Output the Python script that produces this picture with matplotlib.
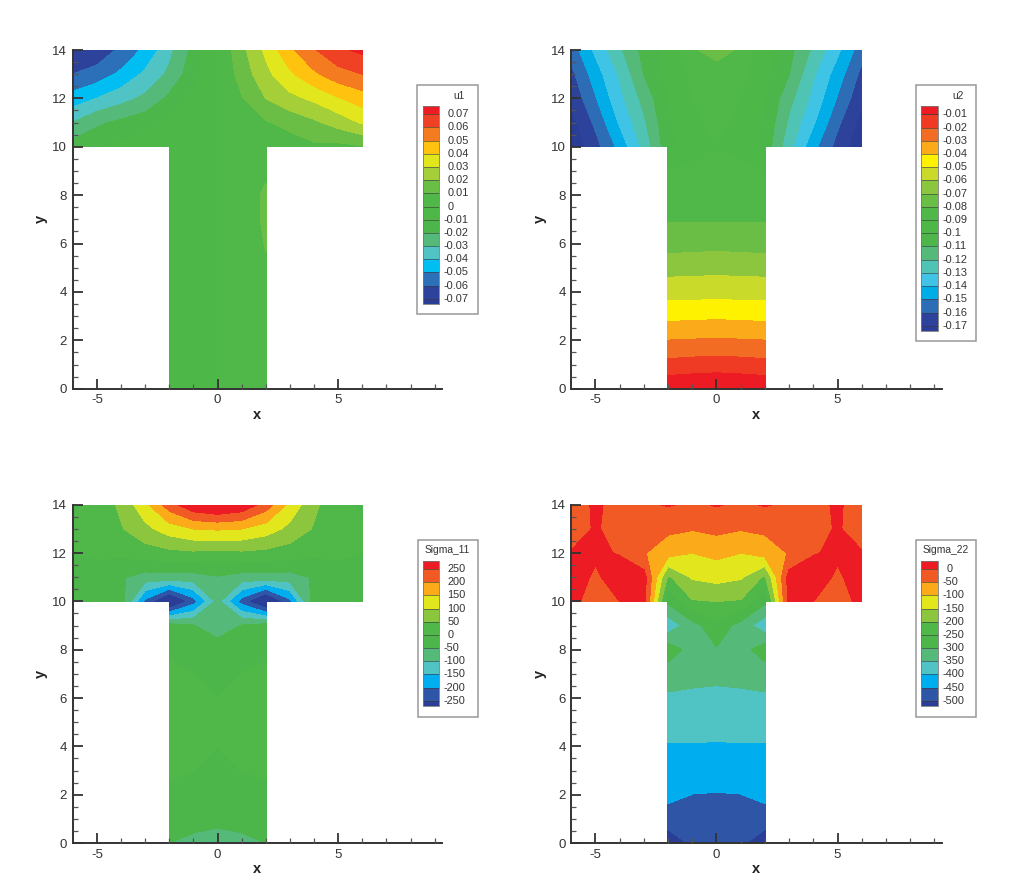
import numpy as np
import matplotlib
matplotlib.use("Agg")
import matplotlib.pyplot as plt
from matplotlib.patches import Rectangle

plt.rcParams["font.family"] = ["Liberation Sans", "DejaVu Sans"]
plt.rcParams["axes.unicode_minus"] = False

FIG_W = 1024
FIG_H = 888

# mesh nodes of the T shape
X_NODES = [-6, -5, -4, -3, -2, -1, 0, 1, 2, 3, 4, 5, 6]
Y_NODES = [0, 1, 2, 3, 4, 5, 6, 7, 8, 9, 10, 11, 12, 13, 14]

# flange rows: y = 14, 13, 12, 11, 10 / web rows: y = 9 ... 0 for x = -2 ... 2
U1_FLANGE = [
    [-.072, -.067, -.058, -.048, -.033, -.017, 0, .017, .032, .048, .059, .068, .072],
    [-.060, -.056, -.048, -.038, -.028, -.014, 0, .014, .027, .038, .048, .056, .060],
    [-.046, -.040, -.034, -.028, -.018, -.008, 0, .009, .020, .027, .032, .039, .045],
    [-.030, -.022, -.018, -.014, -.009, -.003, 0, .004, .009, .013, .018, .024, .031],
    [-.016, -.012, -.008, -.005, -.003, -.002, 0, .001, .003, .005, .008, .007, .009],
]
U1_WEB = [
    [-.004, -.002, 0, .002, .008],
    [-.004, -.002, 0, .003, .012],
    [-.004, -.002, 0, .003, .012],
    [-.004, -.002, 0, .003, .0105],
    [-.004, -.002, 0, .003, .009],
    [-.003, -.002, 0, .002, .006],
    [-.003, -.001, 0, .002, .004],
    [-.002, -.001, 0, .001, .003],
    [-.002, -.001, 0, .001, .002],
    [-.001, -.001, 0, .001, .001],
]
U1_LEVELS = [-.07, -.06, -.05, -.04, -.03, -.02, -.01, 0, .01, .02, .03, .04, .05, .06, .07]
U1_LABELS = ["-0.07", "-0.06", "-0.05", "-0.04", "-0.03", "-0.02", "-0.01", "0",
             "0.01", "0.02", "0.03", "0.04", "0.05", "0.06", "0.07"]

U2_FLANGE = [
    [-.156, -.138, -.122, -.107, -.096, -.0815, -.076, -.0815, -.096, -.107, -.122, -.138, -.156],
    [-.163, -.145, -.129, -.110, -.098, -.088, -.085, -.088, -.098, -.110, -.129, -.145, -.163],
    [-.168, -.151, -.133, -.117, -.100, -.090, -.088, -.090, -.100, -.117, -.133, -.151, -.168],
    [-.174, -.158, -.139, -.122, -.102, -.091, -.089, -.091, -.102, -.122, -.139, -.158, -.174],
    [-.178, -.164, -.147, -.127, -.104, -.092, -.090, -.092, -.104, -.127, -.147, -.164, -.178],
]
U2_WEB = [
    [-.090, -.089, -.088, -.089, -.090],
    [-.087, -.086, -.086, -.086, -.087],
    [-.081, -.081, -.081, -.081, -.081],
    [-.0745, -.074, -.0735, -.074, -.0745],
    [-.064, -.0635, -.063, -.0635, -.064],
    [-.054, -.054, -.054, -.054, -.054],
    [-.043, -.0425, -.042, -.0425, -.043],
    [-.030, -.0295, -.029, -.0295, -.030],
    [-.017, -.016, -.0154, -.016, -.017],
    [-.002, -.001, 0, -.001, -.002],
]
U2_LEVELS = [-.17, -.16, -.15, -.14, -.13, -.12, -.11, -.10, -.09,
             -.08, -.07, -.06, -.05, -.04, -.03, -.02, -.01]
U2_LABELS = ["-0.17", "-0.16", "-0.15", "-0.14", "-0.13", "-0.12", "-0.11", "-0.1", "-0.09",
             "-0.08", "-0.07", "-0.06", "-0.05", "-0.04", "-0.03", "-0.02", "-0.01"]

S11_FLANGE = [
    [-10, 15, 60, 135, 225, 290, 310, 290, 225, 135, 60, 15, -10],
    [5, 20, 45, 85, 125, 150, 155, 150, 125, 85, 45, 20, 5],
    [0, 5, 10, 25, 35, 40, 36, 40, 35, 25, 10, 5, 0],
    [-5, -15, -45, -72, -70, -72, -55, -72, -70, -72, -45, -15, -5],
    [-5, -10, -25, -215, -340, -225, -85, -225, -340, -215, -25, -10, -5],
]
S11_WEB = [
    [-30, -48, -90, -48, -30],
    [-5, -5, -15, -5, -5],
    [5, 0, -5, 0, 5],
    [8, 3, 0, 3, 8],
    [8, 3, 0, 3, 8],
    [6, 2, 0, 2, 6],
    [3, 0, -3, 0, 3],
    [-5, -8, -10, -8, -5],
    [-25, -30, -35, -30, -25],
    [-50, -65, -75, -65, -50],
]
S11_LEVELS = [-250, -200, -150, -100, -50, 0, 50, 100, 150, 200, 250]
S11_LABELS = ["-250", "-200", "-150", "-100", "-50", "0", "50", "100", "150", "200", "250"]

S22_FLANGE = [
    [-28, 8, -18, -8, 3, -8, 3, -8, 3, -8, -18, 8, -28],
    [-25, 5, -20, -22, -40, -47, -37, -47, -40, -22, -20, 5, -25],
    [3, 5, -2, -47, -80, -100, -88, -100, -80, -47, -2, 5, 3],
    [15, -5, 15, 20, -210, -145, -133, -145, -210, 20, 15, -5, 15],
    [15, -25, 0, 20, -290, -205, -200, -205, -290, 20, 0, -25, 15],
]
S22_WEB = [
    [-385, -322, -265, -322, -385],
    [-270, -325, -305, -325, -270],
    [-330, -336, -338, -336, -330],
    [-357, -360, -363, -360, -357],
    [-383, -384, -385, -384, -383],
    [-403, -403, -404, -403, -403],
    [-424, -424, -425, -424, -424],
    [-435, -451, -453, -451, -435],
    [-477, -475, -478, -475, -477],
    [-530, -492, -495, -492, -530],
]
S22_LEVELS = [-500, -450, -400, -350, -300, -250, -200, -150, -100, -50, 0]
S22_LABELS = ["-500", "-450", "-400", "-350", "-300", "-250", "-200", "-150", "-100", "-50", "0"]

# band colours, low to high
U1_COLORS = ["#2B3E97", "#2C429B", "#2B70B9", "#00BDF2", "#50C4C4", "#55B97A", "#4DB64A", "#4DB848",
             "#4FB848", "#6ABD45", "#A5CF39", "#E2E61C", "#FFC20E", "#F47B20", "#EF4123", "#ED1C24"]
U2_COLORS = ["#2B3E97", "#2C429B", "#2C6DB5", "#00ADE6", "#40C4E6", "#50C4B4", "#55B97A", "#4DB64A",
             "#4DB848", "#4FB848", "#6ABD45", "#8CC63F", "#C9DA2A", "#FFF200", "#FBAA19", "#F26C23",
             "#EF3B24", "#ED1C24"]
S_COLORS = ["#2B3E97", "#2F56A6", "#00AEEF", "#50C4C4", "#55B97A", "#4DB64A", "#4FB848", "#8CC63F",
            "#E2E61C", "#FBAA19", "#F15A24", "#ED1C24"]


def fig_rect(left, top, right, bottom):
    """Pixel box (from the top left of the image) to figure fractions."""
    return [left / FIG_W, 1 - bottom / FIG_H, (right - left) / FIG_W, (bottom - top) / FIG_H]


def build_field(flange, web):
    field = np.full((len(Y_NODES), len(X_NODES)), np.nan)
    field[10:15, :] = np.array(flange)[::-1]
    field[0:10, 4:9] = np.array(web)[::-1]
    return np.ma.masked_invalid(field)


def draw_panel(fig, flange, web, levels, labels, colors, title, ax_box, box, bar_box, title_xy):
    ax = fig.add_axes(fig_rect(*ax_box))
    field = build_field(flange, web)
    # corner_mask off, otherwise the re-entrant corners of the T get chamfered
    cf = ax.contourf(X_NODES, Y_NODES, field, levels=levels, colors=colors, extend="both",
                     corner_mask=False)
    cf.set_edgecolor("face")
    cf.set_linewidth(0.3)

    ax.set_xlim(-6, 9.3)
    ax.set_ylim(0, 14)
    ax.set_xticks([-5, 0, 5])
    ax.set_xticks(np.arange(-5, 10, 1), minor=True)
    ax.set_yticks(np.arange(0, 15, 2))
    ax.set_yticks(np.arange(0, 14.5, 0.5), minor=True)
    ax.tick_params(which="major", direction="in", length=7, width=1.3, colors="#333333", labelsize=9.5)
    ax.tick_params(which="minor", direction="in", length=3.5, width=0.9, color="#555555")
    ax.tick_params(axis="x", which="major", pad=4)
    ax.tick_params(axis="y", which="major", pad=4)
    ax.spines["top"].set_visible(False)
    ax.spines["right"].set_visible(False)
    ax.spines["left"].set_linewidth(1.4)
    ax.spines["bottom"].set_linewidth(1.4)
    ax.spines["left"].set_color("#333333")
    ax.spines["bottom"].set_color("#333333")
    ax.set_axisbelow(False)
    ax.patch.set_alpha(0)
    ax.set_xlabel("x", fontsize=10.5, fontweight="bold", color="#222222", labelpad=1)
    ax.set_ylabel("y", fontsize=10.5, fontweight="bold", color="#222222", labelpad=3)

    # legend frame, below the bar axes
    left, top, right, bottom = box
    fig.add_artist(Rectangle((left / FIG_W, 1 - bottom / FIG_H), (right - left) / FIG_W,
                             (bottom - top) / FIG_H, transform=fig.transFigure,
                             facecolor="white", edgecolor="#999999", linewidth=1.1, zorder=-1))
    fig.text(title_xy[0] / FIG_W, 1 - title_xy[1] / FIG_H, title, fontsize=7.4, color="#333333",
             ha="center", va="center")

    # legend bar, with short end bands like the original
    cax = fig.add_axes(fig_rect(*bar_box))
    interior = bar_box[3] - bar_box[1] - 13.5
    cb = fig.colorbar(cf, cax=cax, drawedges=True, extendrect=True,
                      extendfrac=[5.2 / interior, 8.3 / interior])
    cb.dividers.set_color("#3A3A3A")
    cb.dividers.set_alpha(0.6)
    cb.dividers.set_linewidth(0.7)
    cb.outline.set_edgecolor("#777777")
    cb.outline.set_linewidth(0.6)
    cb.set_ticks([])
    cb.minorticks_off()

    for i, label in enumerate(labels):
        offset = 4.0 if label.startswith("-") else 8.3
        cax.annotate(label, xy=(1, i / (len(labels) - 1)), xycoords="axes fraction",
                     xytext=(offset * 0.72, 0), textcoords="offset points",
                     ha="left", va="center", fontsize=7.9, color="#333333")
    return ax


def main():
    fig = plt.figure(figsize=(FIG_W / 100, FIG_H / 100), dpi=100, facecolor="white")

    draw_panel(fig, U1_FLANGE, U1_WEB, U1_LEVELS, U1_LABELS, U1_COLORS, "u1",
               (72.7, 50, 442, 388.7), (417, 85, 478, 314), (422.7, 106, 439.3, 304), (459, 95.7))
    draw_panel(fig, U2_FLANGE, U2_WEB, U2_LEVELS, U2_LABELS, U2_COLORS, "u2",
               (571.2, 50, 941.7, 388.7), (915.7, 85, 976, 341), (921, 106, 938.3, 331), (958, 95.7))
    draw_panel(fig, S11_FLANGE, S11_WEB, S11_LEVELS, S11_LABELS, S_COLORS, "Sigma_11",
               (72.7, 504.7, 442, 843), (417.7, 539.7, 478, 716.7), (422.7, 560.7, 439.3, 706), (447.5, 550))
    draw_panel(fig, S22_FLANGE, S22_WEB, S22_LEVELS, S22_LABELS, S_COLORS, "Sigma_22",
               (571.2, 504.7, 941.7, 843), (916, 539.7, 976, 716.7), (921, 560.7, 938.3, 706), (946, 550))

    fig.savefig("out.png", dpi=100)


if __name__ == "__main__":
    main()
